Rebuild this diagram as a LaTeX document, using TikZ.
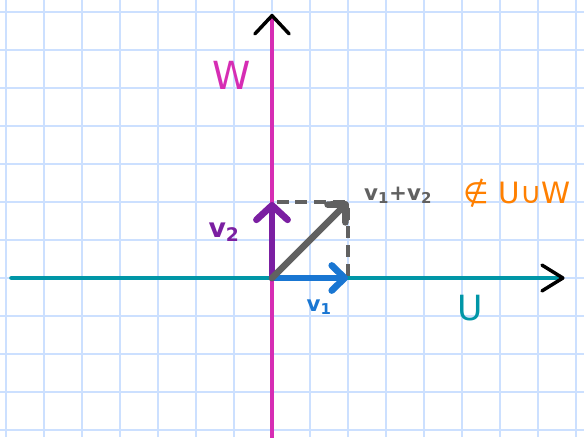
\documentclass[tikz,border=0pt]{standalone}
\usepackage{fontspec}
\setmainfont{DejaVu Sans}
\usepackage{tikz}
\usetikzlibrary{arrows.meta}
\definecolor{gridblue}{RGB}{204,224,255}
\definecolor{uteal}{RGB}{0,150,167}
\definecolor{wmagenta}{RGB}{214,45,180}
\definecolor{vblue}{RGB}{25,118,210}
\definecolor{vpurple}{RGB}{123,31,162}
\definecolor{sumgray}{RGB}{97,97,97}
\definecolor{notorange}{RGB}{255,128,0}

\begin{document}
\begin{tikzpicture}[
    axis/.style={line width=3.7pt, line cap=round},
    vec/.style={line width=5pt, line cap=round,
        -{Straight Barb[round, length=0.34cm, width=0.66cm]}},
    helper/.style={sumgray, line width=3pt, dash pattern=on 9pt off 5pt},
    lbl/.style={inner sep=0pt}
]
\useasboundingbox (-7.158,-4.184) rectangle (8.21,7.316);
\fill[white] (-7.158,-4.184) rectangle (8.21,7.316);
\draw[gridblue, line width=1pt] (-7.158,-4) grid (8.21,7.316);
\draw[gridblue, line width=1pt] (-7,-4.184) grid (8.21,7.316);

\coordinate (O) at (0,0);
\coordinate (uL) at (-6.85,0);
\coordinate (uR) at (7.7,0);
\coordinate (wB) at (0,-4.3);
\coordinate (wT) at (0,6.95);
\coordinate (v1) at (2,0);
\coordinate (v2) at (0,2);
\coordinate (s) at (2,2);

\draw[axis, uteal, -{Straight Barb[black, round, length=0.55cm, width=0.68cm, line width=2.6pt]}] (uL) -- (uR);
\draw[axis, wmagenta, -{Straight Barb[black, round, length=0.48cm, width=0.9cm, line width=2.6pt]}] (wB) -- (wT);

\draw[helper] ([xshift=0.12cm]v2) -- (s);
\draw[helper] ([yshift=-0.15cm]s) -- ([yshift=0.05cm]v1);

\draw[vec, vblue] (O) -- (v1);
\draw[vec, vpurple, -{Straight Barb[round, length=0.38cm, width=0.82cm]}] (O) -- (v2);
\draw[vec, sumgray] (O) -- (s);

\node[lbl, wmagenta, font=\fontsize{29}{30}\selectfont] (Wlab) at (-1.05,5.32) {W};
\node[lbl, uteal, font=\fontsize{26}{27}\selectfont] (Ulab) at (5.21,-0.79) {U};
\node[lbl, vblue, font=\bfseries\fontsize{16}{17}\selectfont] (v1lab) at (1.24,-0.76) {v\textsubscript{1}};
\node[lbl, vpurple, font=\bfseries\fontsize{20}{21}\selectfont] (v2lab) at (-1.26,1.21) {v\textsubscript{2}};
\node[lbl, sumgray, font=\bfseries\fontsize{16}{17}\selectfont] (sumlab) at (3.32,2.18) {v\textsubscript{1}+v\textsubscript{2}};
\node[lbl, notorange, font=\fontsize{22}{23}\selectfont] (notlab) at (6.45,2.24) {∉ U∪W};
\end{tikzpicture}
\end{document}
